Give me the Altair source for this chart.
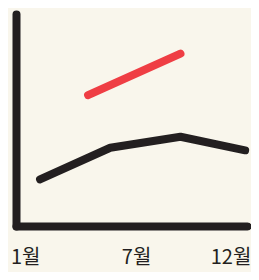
import altair as alt
import pandas as pd

# Data
black_month = [1.8, 5.6, 9.4, 12.9]
black_value = [22.0, 36.9, 42.1, 35.7]
red_month = [4.4, 9.4]
red_value = [61.7, 81.3]
tick_months = [1, 7, 12]
tick_labels = ["1월", "7월", "12월"]

df = pd.concat([
    pd.DataFrame({"month": black_month, "value": black_value, "series": "black"}),
    pd.DataFrame({"month": red_month, "value": red_value, "series": "red"}),
])

label_expr = "{" + ",".join(f"'{m}':'{l}'" for m, l in zip(tick_months, tick_labels)) + "}[datum.value]"

x = alt.X("month:Q",
          scale=alt.Scale(domain=[0.5, 13], nice=False, zero=False),
          axis=alt.Axis(values=tick_months, labelExpr=label_expr, title=None,
                        ticks=False, grid=False, domainWidth=8, domainCap="round",
                        domainColor="#231f20", labelFont="Noto Sans CJK KR",
                        labelFontSize=20, labelColor="#231f20", labelPadding=21,
                        labelBaseline="top", labelFlush=False,
                        labelOffset={"condition": {"test": "datum.value === 12", "value": 2}, "value": 0}))
y = alt.Y("value:Q",
          scale=alt.Scale(domain=[0, 100], nice=False),
          axis=alt.Axis(labels=False, ticks=False, grid=False, title=None,
                        domainWidth=8, domainCap="round", domainColor="#231f20"))

chart = alt.Chart(df).mark_line(strokeWidth=8, strokeCap="round", strokeJoin="round").encode(
    x=x, y=y,
    color=alt.Color("series:N", scale=alt.Scale(domain=["black", "red"], range=["#231f20", "#ef3e44"]), legend=None),
    detail="series:N",
).properties(
    width=231, height=212,
    autosize=alt.AutoSizeParams(type="none"),
    padding={"left": 8, "top": 6, "right": 4, "bottom": 46},
    background="#f9f6ec",
).configure_view(stroke=None)

chart.save("out.html", embed_options={"renderer": "svg", "actions": False})
